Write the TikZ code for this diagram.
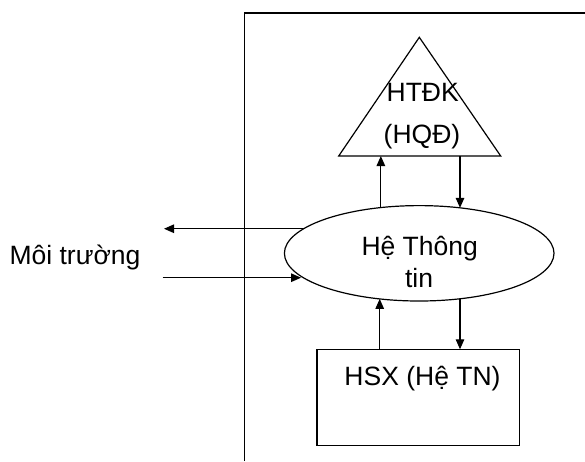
\documentclass[tikz,border=0pt]{standalone}
\usepackage{fontspec}
\setmainfont{Liberation Sans}
\usetikzlibrary{arrows.meta,shapes.geometric}
\begin{document}
\begin{tikzpicture}[x=1pt,y=-1pt,
  every node/.style={font=\fontsize{26.5}{30}\selectfont, inner sep=0pt, outer sep=0pt},
  line/.style={line width=1.2pt},
  arr/.style={line width=1.2pt,-{Triangle[length=10pt,width=8.5pt]}},
  lbl/.style={anchor=base}]
\useasboundingbox (0,0) rectangle (585,461);
% frame
\coordinate (ftop) at (244.7,13);
\coordinate (fbl) at (244.7,461);
\coordinate (ftr) at (585,13);
\draw[line] (fbl) -- (ftop) -- (ftr);
% triangle
\coordinate (apex) at (419.3,37.3);
\coordinate (tbl) at (338.7,156);
\coordinate (tbr) at (500.7,156);
\draw[line,line join=miter] (apex) -- (tbl) -- (tbr) -- cycle;
% ellipse
\node[ellipse, draw, line, minimum width=269.6pt, minimum height=95.4pt] (ht) at (419.2,253.3) {};
% rectangle
\node[draw, line, minimum width=202.3pt, minimum height=96pt] (hsx) at (418.2,397.3) {};
% arrows to/from triangle
\coordinate (t1) at (379.7,156);
\coordinate (t2) at (460,156);
\draw[arr] (ht.130.7) -- (ht.130.7 |- t1);
\draw[arr] (t2) -- (t2 |- ht.48.1);
% arrows to/from rectangle
\draw[arr] (hsx.north -| t1) -- (t1 |- ht.229.3);
\draw[arr] (t2 |- ht.311.9) -- (hsx.north -| t2);
% left arrows
\coordinate (eL1) at (164,229.3);
\coordinate (eL2) at (162.7,277.7);
\draw[arr] (ht.168.4) -- (ht.168.4 -| eL1);
\draw[arr] (eL2) -- (eL2 -| ht.191.6);
% texts
\node[lbl] (thtdk) at (422.7,101.7) {HTĐK};
\node[lbl] (thqd) at (422,143) {(HQĐ)};
\node[lbl] (tht1) at (419.7,255) {Hệ Thông};
\node[lbl] (tht2) at (419,287.3) {tin};
\node[lbl] (thsx) at (422.5,385) {HSX (Hệ TN)};
\node[lbl] (tmt) at (75,264) {Môi trường};
\end{tikzpicture}
\end{document}
